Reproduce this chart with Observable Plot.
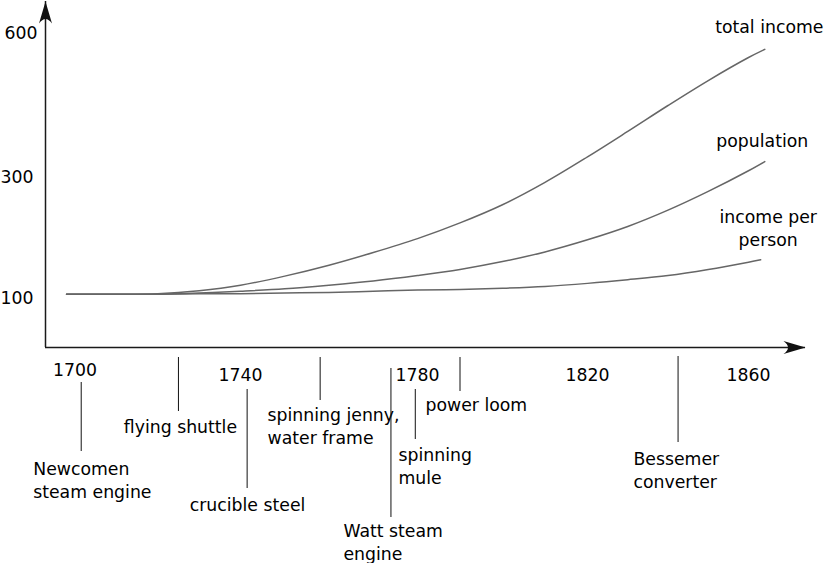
<!DOCTYPE html>
<html><head><meta charset="utf-8">
<script src="https://cdn.jsdelivr.net/npm/d3@7"></script>
<script src="https://cdn.jsdelivr.net/npm/@observablehq/plot@0.6"></script>
<style>
html,body{margin:0;padding:0;background:#fff;}
#chart{position:relative;width:824px;height:563px;overflow:hidden;}
#chart svg{position:absolute;left:0;top:0;}
</style></head><body><div id="chart"></div>
<script>
// ---------- data ----------
const years = [1698,1710,1720,1730,1740,1750,1760,1770,1780,1790,1800,1810,1820,1830,1840,1850,1860];
const seriesNames = ["total income","population","income per person"];
const seriesLabels = ["total income","population","income per\nperson"];
const endYears = [1864,1864,1863];
const totalIncome     = [107,107,108,113,122,137,155,176,199,225,255,292,343,396,450,502,550,567];
const population      = [107,107,107,109,112,116,122,129,138,148,161,177,197,219,246,277,314,333];
const incomePerPerson = [107,107,107,108,108,109,110,112,114,115,117,120,125,131,138,148,160,164];
const xTicks = [1700,1740,1780,1820,1860];
const yTicks = [100,300,600];
const inventions = ["Newcomen\nsteam engine","flying shuttle","crucible steel","spinning jenny,\nwater frame","Watt steam\nengine","spinning\nmule","power loom","Bessemer\nconverter"];
const inventionYears = [1701.5,1725,1741.5,1758,1774,1779.5,1790,1842.5];

// ---------- layout ----------
const W = 824, H = 563;
const FONT = {fontFamily:"DejaVu Sans", fontSize:"17.3px", background:"transparent", overflow:"visible"};
const xDomain = [1693,1700,1740,1780,1820,1860,1874];
const xRange  = [45,74.5,240,417,587,748,805];
const yDomain = [0,100,300,600,667];
const yRange  = [347,298,177,33,1];
const X_START = xDomain[0], X_END = xDomain[xDomain.length-1];
const Y_BOTTOM = yDomain[0], Y_TOP = yDomain[yDomain.length-1];
// stem top, stem bottom, text top, dx, anchor
const noteLayout = [
  [382,451,458,-48,"start"],
  [357,411,416.5,2,"middle"],
  [389,488,494.5,0.4,"middle"],
  [357,400,404,-52.6,"start"],
  [368,517,520,-47.5,"start"],
  [389,439,444.5,-16.8,"start"],
  [357,391,394.5,-34.5,"start"],
  [356,442,448,-44.6,"start"]
];
const labelLayout = [[4.5,-33],[-2.5,-30.8],[7.5,-53]];

const fmt = d => String(d);
const arrowHead = {draw(ctx){ ctx.moveTo(0,0); ctx.lineTo(-22,-6.5); ctx.quadraticCurveTo(-13,0,-22,6.5); ctx.closePath(); }};

const valuesBySeries = [totalIncome, population, incomePerPerson];
const table = seriesNames.flatMap((name,i) =>
  years.concat(endYears[i]).map((year,j) => ({series:name, year, value:valuesBySeries[i][j]})));
const ends = seriesNames.map((name,i) => ({series:name, label:seriesLabels[i], year:endYears[i], value:valuesBySeries[i][valuesBySeries[i].length-1]}));

const chartA = Plot.plot({
  width:W, height:H, marginLeft:45, marginBottom:H-347, marginTop:0, marginRight:0,
  style:FONT,
  x:{type:"linear", domain:xDomain, range:xRange, axis:null, label:null},
  y:{type:"linear", domain:yDomain, range:yRange, axis:null, label:null},
  marks:[
    Plot.ruleY([Y_BOTTOM], {x1:X_START, x2:X_END, stroke:"#1a1a1a", strokeWidth:1.5}),
    Plot.ruleX([X_START], {y1:Y_BOTTOM, y2:Y_TOP, stroke:"#1a1a1a", strokeWidth:1.5}),
    Plot.dot([{x:X_END, y:Y_BOTTOM}], {x:"x", y:"y", symbol:arrowHead, fill:"#111", r:5}),
    Plot.dot([{x:X_START, y:Y_TOP}], {x:"x", y:"y", symbol:arrowHead, fill:"#111", r:5, rotate:-90}),
    Plot.line(table, {x:"year", y:"value", z:"series", stroke:"#666", strokeWidth:1.5, curve:"catmull-rom"}),
    ...ends.map((e,i) => Plot.text([e], {x:"year", y:"value", text:"label", textAnchor:"middle", lineAnchor:"top", lineHeight:1.33, dx:labelLayout[i][0], dy:labelLayout[i][1], fill:"#000"})),
    Plot.axisX({ticks:xTicks.slice(0,1), tickSize:0, tickPadding:16, tickFormat:fmt, label:null}),
    Plot.axisX({ticks:xTicks.slice(1), tickSize:0, tickPadding:21.5, tickFormat:fmt, label:null}),
    Plot.axisY({ticks:yTicks.slice(0,2), tickSize:0, tickPadding:12, tickFormat:fmt, label:null}),
    Plot.axisY({ticks:yTicks.slice(2), tickSize:0, tickPadding:8, tickFormat:fmt, label:null})
  ]
});

const notes = inventions.map((label,i) => ({label, year:inventionYears[i]}));
const chartB = Plot.plot({
  width:W, height:H, margin:0,
  style:FONT,
  x:{type:"linear", domain:xDomain, range:xRange, axis:null, label:null},
  y:{type:"identity", axis:null},
  marks: notes.flatMap((n,i) => {
    const [t,b,tt,dx,anchor] = noteLayout[i];
    return [
      Plot.ruleX([n], {x:"year", y1:t, y2:b, stroke:"#111", strokeWidth:1}),
      Plot.text([n], {x:"year", y:tt, text:"label", textAnchor:anchor, lineAnchor:"top", lineHeight:1.33, dx, fill:"#000"})
    ];
  })
});

const root = document.getElementById("chart");
root.appendChild(chartA);
root.appendChild(chartB);
</script></body></html>
